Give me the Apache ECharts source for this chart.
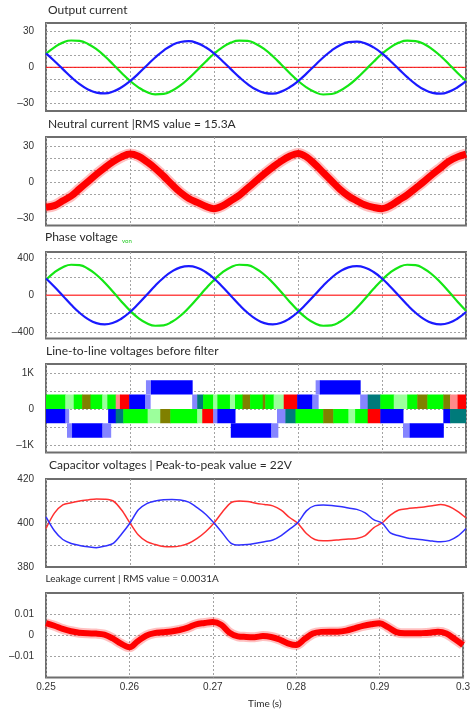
<!DOCTYPE html>
<html><head><meta charset="utf-8">
<script src="https://cdn.jsdelivr.net/npm/echarts@6/dist/echarts.min.js"></script>
<style>html,body{margin:0;padding:0;background:#fff}#c{width:473px;height:713px}</style>
</head><body><div id="c"></div>
<script>
// ---- sample times (s), one sample per ms from 0.25 to 0.30 ----
const times = Array.from({length: 51}, (_, i) => +(0.25 + i * 0.001).toFixed(3));

// ---- Output current (A) ----
const outGreen = [11.3,16.7,20.6,22.4,22.0,19.5,15.1,9.2,2.4,-4.7,-11.3,-16.7,-20.6,-22.6,-22.2,-19.5,-15.1,-9.2,-2.4,4.7,
  11.3,16.7,20.6,22.3,22.0,19.5,15.1,9.2,2.4,-4.7,-11.3,-16.7,-20.6,-22.7,-22.3,-19.6,-15.1,-9.2,-2.4,4.7,
  11.3,16.7,20.6,22.3,21.9,19.4,15.0,9.2,2.4,-4.7,-11.3];
const outBlue = [11.6,5.3,-1.5,-8.2,-14.0,-18.5,-21.1,-21.8,-20.2,-16.7,-11.6,-5.3,1.5,8.2,14.0,18.5,21.1,21.8,20.2,16.7,
  11.6,5.3,-1.5,-8.2,-14.0,-18.6,-21.3,-22.0,-20.3,-16.7,-11.6,-5.3,1.5,8.2,14.0,18.4,21.0,21.5,20.0,16.6,
  11.6,5.3,-1.5,-8.2,-14.0,-18.6,-21.3,-22.0,-20.3,-16.7,-11.6];
const outRed = [0,0,0,0,0,0,0,0,0,0,0,0,0,0,0,0,0,0,0,0,0,0,0,0,0,0,0,0,0,0,0,0,0,0,0,0,0,0,0,0,0,0,0,0,0,0,0,0,0,0,0];

// ---- Neutral current (A) ----
const neutral = [-20.8,-19.5,-15.5,-11.5,-5.5,0.5,6.5,12,17,21,23.3,
  21.5,17,11.5,5,-2,-8.5,-13.5,-16.8,-20,-22,
  -19.8,-15.5,-11,-5,1,7,12.5,17.5,21.5,23.8,
  21,15,8,1,-6,-11.5,-15.5,-19,-21,-22,
  -19.5,-15,-10.5,-5,0.5,6.5,12,17.5,21,23.3];

// ---- Phase voltage (V) ----
const phGreen = [167,249,306,333,328,290,224,136,35,-70,-168,-249,-306,-333,-328,-290,-224,-136,-35,70,
  167,249,306,333,328,290,224,136,35,-70,-168,-249,-306,-333,-328,-290,-224,-136,-35,70,
  167,249,306,333,328,290,224,136,35,-70,-168];
const phBlue = [183,93,-5,-104,-191,-260,-304,-318,-301,-254,-183,-93,5,104,191,260,304,318,301,254,
  183,93,-5,-104,-191,-260,-304,-318,-301,-254,-183,-93,5,104,191,260,304,318,301,254,
  183,93,-5,-104,-191,-260,-304,-318,-301,-254,-183];
const phRed = [0,0,0,0,0,0,0,0,0,0,0,0,0,0,0,0,0,0,0,0,0,0,0,0,0,0,0,0,0,0,0,0,0,0,0,0,0,0,0,0,0,0,0,0,0,0,0,0,0,0,0];

// ---- Line-to-line voltages before filter: PWM segments [tStart, tEnd, colourIndex] ----
const llLevels = {upper:[0,400], lower:[-400,0], top:[400,800], bottom:[-800,-400]};
const llUpper = [[0.2500,0.2523,0],[0.2523,0.2533,1],[0.2533,0.2543,0],[0.2543,0.2553,2],[0.2553,0.2567,0],[0.2567,0.2573,1],
  [0.2573,0.2583,0],[0.2583,0.2588,3],[0.2588,0.2599,4],[0.2599,0.2618,5],[0.2618,0.2624,6],
  [0.2674,0.2680,6],[0.2680,0.2687,7],[0.2687,0.2699,0],[0.2699,0.2704,1],[0.2704,0.2719,0],[0.2719,0.2725,1],[0.2725,0.2734,0],
  [0.2734,0.2743,2],[0.2743,0.2758,0],[0.2758,0.2761,2],[0.2761,0.2771,0],[0.2771,0.2783,1],[0.2783,0.2799,4],[0.2799,0.2817,5],[0.2817,0.2824,6],
  [0.2874,0.2883,6],[0.2883,0.2898,7],[0.2898,0.2914,0],[0.2914,0.2930,1],[0.2930,0.2942,0],[0.2942,0.2954,2],[0.2954,0.2973,0],
  [0.2973,0.2981,2],[0.2981,0.2990,3],[0.2990,0.3000,4]];
const llLower = [[0.2500,0.2523,5],[0.2523,0.2527,6],[0.2574,0.2583,5],[0.2583,0.2592,7],[0.2592,0.2621,0],[0.2621,0.2636,1],
  [0.2636,0.2648,2],[0.2648,0.2680,0],[0.2680,0.2686,1],[0.2686,0.2699,4],[0.2699,0.2704,6],[0.2704,0.2725,5],
  [0.2775,0.2785,6],[0.2785,0.2797,7],[0.2797,0.2830,0],[0.2830,0.2842,2],[0.2842,0.2860,0],[0.2860,0.2868,1],[0.2868,0.2883,0],
  [0.2883,0.2898,4],[0.2898,0.2925,5],[0.2973,0.2981,5],[0.2981,0.3000,7]];
const llTop = [[0.2619,0.2625,6],[0.2625,0.2674,5],[0.2821,0.2826,6],[0.2826,0.2874,5]];
const llBottom = [[0.2525,0.2531,6],[0.2531,0.2567,5],[0.2567,0.2577,6],[0.2720,0.2768,5],[0.2768,0.2776,6],[0.2925,0.2933,6],[0.2933,0.2973,5]];
const llColors = ['#00ff00','#9cff9c','#808000','#ff8a8a','#ff0000','#0000ff','#8585ff','#007a7a'];

// ---- Capacitor voltages (V) ----
const capRed = [397.5,404.5,408.2,409.2,410,410.5,410.9,410.8,410,405.9,400,
  394.5,391.5,390.2,389.3,389.2,389.6,390.8,393,396,400,
  405,409.2,410,409.8,409,408.4,407.8,405.8,402.5,399.8,
  395.2,392.5,391.9,392,392.4,392.7,393,394.3,397.8,400,
  403.6,405.9,406.5,406.9,407.3,407.8,408.4,407.5,405.3,402.3];
const capBlue = [402.8,396.5,392.5,390.7,389.8,389.2,388.8,389.5,390.7,395,400,
  406,408.8,410,410.6,410.7,410.5,409.5,407,404,400,
  395.5,390.9,390,390.2,390.8,391.5,392.3,394.3,397.2,400.2,
  405.5,407.9,408.2,408,407.5,406.8,406.2,404.6,401.5,400,
  395.5,394.2,393.2,392.7,392.3,391.8,391.5,392,394,397.5];

// ---- Leakage current (A) ----
const leak = [0.0057,0.0045,0.003,0.0019,0.0012,0.0009,0.0008,0.0003,-0.0015,-0.004,-0.0057,
  -0.0028,-0.0002,0.001,0.0014,0.0018,0.0025,0.0036,0.0052,0.0058,0.0063,
  0.005,0.0012,-0.0005,-0.0008,-0.0009,-0.0004,-0.0008,-0.002,-0.0038,-0.0046,
  -0.0018,0.0008,0.0016,0.0017,0.0017,0.0022,0.0033,0.0044,0.0052,0.0057,
  0.0038,0.0015,0.0009,0.0009,0.001,0.0012,0.0016,0.0008,-0.0018,-0.0046];

// ---- tick labels ----
const xTicks = [0.25,0.26,0.27,0.28,0.29,0.30];
const yTicks = {
  out:{labels:[-30,0,30], grid:[-30,-20,-10,0,10,20,30]},
  neu:{labels:[-30,0,30], grid:[-30,-20,-10,0,10,20,30]},
  ph:{labels:[-400,0,400], grid:[-400,-200,0,200,400]},
  ll:{labels:[-1000,0,1000], grid:[-1000,-500,0,500,1000]},
  cap:{labels:[380,400,420], grid:[390,400,410]},
  leak:{labels:[-0.01,0,0.01], grid:[-0.01,0,0.01]}
};

const LBL = {fontFamily:'Liberation Sans', fontSize:10, color:'#333'};
const TFONT = 'Lato';
const dash = {color:'#a3a3a3', type:[2,2], width:1};
const gridBoxes = [[23,88],[137,88.5],[252,86.5],[364,88.5],[479,88],[593,84.5]];
const neg = v => (v < 0 ? '\u2013' + (-v) : String(v));

const grid = gridBoxes.map(b => ({left:46, width:420, top:b[0], height:b[1], show:true,
  borderColor:'#6e6e6e', borderWidth:2, backgroundColor:'#fff'}));

const xAxis = gridBoxes.map((b, i) => ({type:'value', gridIndex:i, min:0.25, max:0.3, interval:0.01,
  axisLine:{show:false}, axisTick:{show:false},
  axisLabel:Object.assign({show:i === 5, margin:5, formatter: v => (Math.abs(v-0.3)<1e-9 ? '0.3' : v.toFixed(2))}, LBL),
  splitLine:{show:true, lineStyle:dash}}));

function yAx(i, min, max, t, fmt) {
  return {type:'value', gridIndex:i, min:min, max:max,
    axisLine:{show:false},
    axisTick:{show:false, customValues:t.grid},
    axisLabel:Object.assign({customValues:t.labels, formatter:fmt, margin:12}, LBL),
    splitLine:{show:true, lineStyle:dash}};
}
const yAxis = [
  yAx(0, -36.5, 37, yTicks.out, neg),
  yAx(1, -36, 37.5, yTicks.neu, neg),
  yAx(2, -472, 472, yTicks.ph, neg),
  yAx(3, -1213, 1252, yTicks.ll, v => v === 0 ? '0' : (v < 0 ? '\u2013' + (-v/1000) + 'K' : (v/1000) + 'K')),
  yAx(4, 380, 420, yTicks.cap, v => String(v)),
  yAx(5, -0.02, 0.02, yTicks.leak, neg)
];

const pts = arr => times.map((t, i) => [t, arr[i]]);
function line(idx, arr, color, width, extra) {
  return Object.assign({type:'line', xAxisIndex:idx, yAxisIndex:idx, data:pts(arr), showSymbol:false, symbol:'none',
    smooth:true, animation:false, silent:true, lineStyle:{color:color, width:width}}, extra || {});
}

const llData = [];
[['upper', llUpper], ['lower', llLower], ['top', llTop], ['bottom', llBottom]].forEach(([lvl, segs]) => {
  segs.forEach(s => llData.push([s[0], s[1], llLevels[lvl][0], llLevels[lvl][1], s[2]]));
});

const series = [
  line(0, outRed, '#ff0000', 1, {smooth:false}),
  line(0, outGreen, '#14e614', 2.2),
  line(0, outBlue, '#1a1aff', 2.2),
  line(1, neutral, 'rgba(255,30,30,0.28)', 11, {smooth:0.35}),
  line(1, neutral, '#ff0000', 7, {smooth:0.35}),
  line(2, phRed, '#ff4a4a', 1.5, {smooth:false}),
  line(2, phGreen, '#14e614', 2.2),
  line(2, phBlue, '#1a1aff', 2.2),
  {type:'custom', xAxisIndex:3, yAxisIndex:3, data:llData, animation:false, silent:true, clip:true,
    encode:{x:[0,1], y:[2,3]},
    renderItem:(params, api) => {
      const a = api.coord([api.value(0), api.value(3)]);
      const b = api.coord([api.value(1), api.value(2)]);
      return {type:'rect', shape:{x:a[0], y:a[1], width:b[0]-a[0]+0.5, height:b[1]-a[1]},
        style:{fill:llColors[api.value(4)]}};
    }},
  line(4, capRed, '#ff3030', 1.5, {smooth:0.3}),
  line(4, capBlue, '#3030ff', 1.5, {smooth:0.3}),
  line(5, leak, 'rgba(255,30,30,0.28)', 10, {smooth:0.35}),
  line(5, leak, '#ff0000', 6, {smooth:0.35})
];

const tStyle = (size, color) => ({fontFamily:TFONT, fontSize:size, fontWeight:'normal', color:color || '#2a2a2a'});
const title = [
  {text:'Output current', left:48, top:4, padding:0, textStyle:tStyle(12)},
  {text:'Neutral current |RMS value = 15.3A', left:48, top:118, padding:0, textStyle:tStyle(12)},
  {text:'Phase voltage', left:45, top:231, padding:0, textStyle:tStyle(12)},
  {text:'von', left:122, top:238, padding:0, textStyle:tStyle(6, '#22cc22')},
  {text:'Line-to-line voltages before filter', left:46, top:345, padding:0, textStyle:tStyle(12)},
  {text:'Capacitor voltages | Peak-to-peak value = 22V', left:49, top:459, padding:0, textStyle:tStyle(12)},
  {text:'Leakage current | RMS value = 0.0031A', left:45.5, top:574, padding:0, textStyle:tStyle(10)},
  {text:'Time (s)', left:248, top:699, padding:0, textStyle:tStyle(10)}
];

const chart = echarts.init(document.getElementById('c'), null, {renderer:'canvas'});
chart.setOption({animation:false, backgroundColor:'#fff', title, grid, xAxis, yAxis, series});
</script>
</body></html>
